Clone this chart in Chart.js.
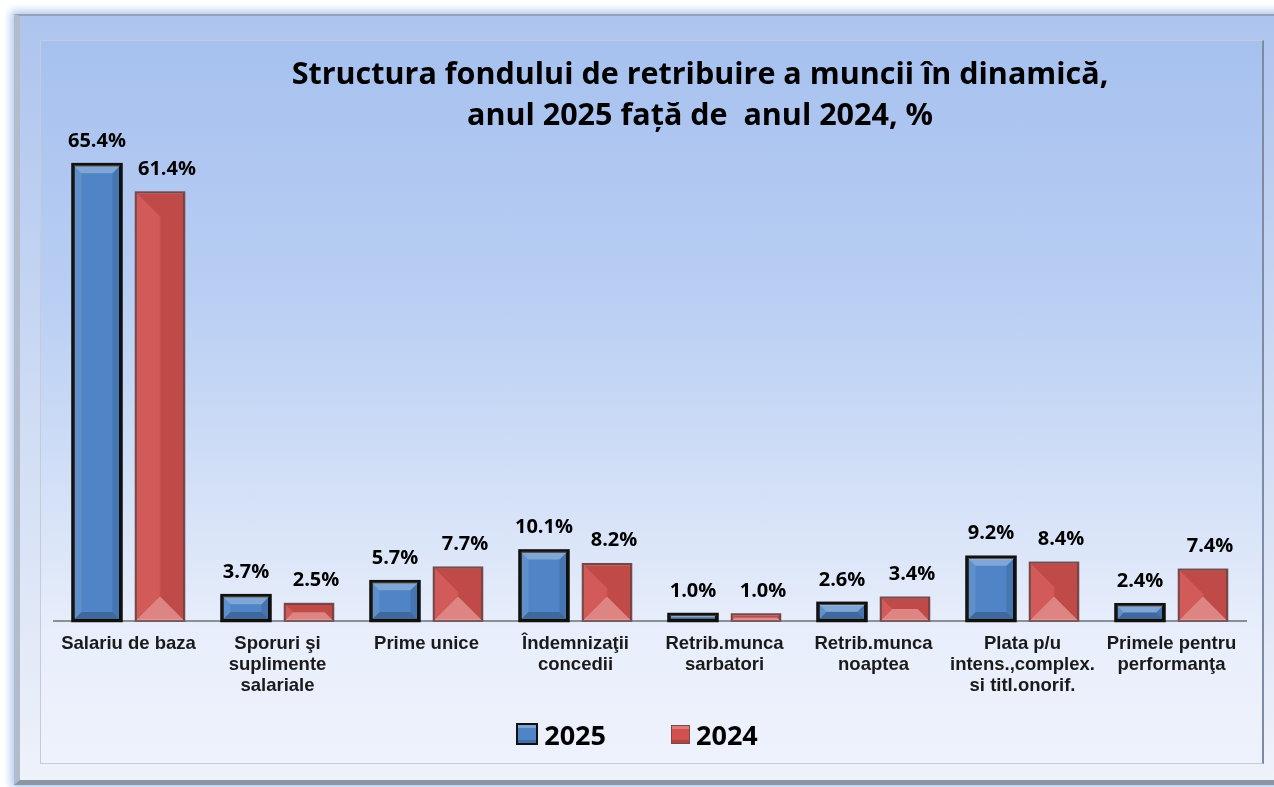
<!DOCTYPE html>
<html>
<head>
<meta charset="utf-8">
<title>Structura fondului de retribuire a muncii</title>
<script src="https://cdn.jsdelivr.net/npm/chart.js@4"></script>
<style>
  html, body { margin: 0; padding: 0; width: 1274px; height: 787px; overflow: hidden; background: #fff; }
  .frame {
    position: absolute; left: 14px; top: 14px; width: 1290px; height: 764px;
    background: linear-gradient(#adc4ee, #eef2fa);
    border-top: 2px solid #98a2b4; border-left: 6px solid #b3bccb; border-bottom: 5px solid #8c95a4;
    box-shadow: 0 0 8px 3px #abc9f2;
  }
  .panel {
    position: absolute; left: 40px; top: 40px; width: 1221px; height: 722px;
    background: linear-gradient(#a7c1ef 0%, #b8cef3 35%, #d3e0f7 62%, #e8eefb 82%, #eef2fc 100%);
    border: 1px solid #c4ccd9; border-right: 2px solid #7d8ca4;
  }
  #grafico { position: absolute; left: 0; top: 0; }
  #leyenda {
    position: absolute; left: 0; width: 1274px; top: 713px; height: 42px;
    display: flex; justify-content: center; align-items: center;
    font-family: 'Open Sans', sans-serif; font-weight: bold; font-size: 27px; color: #000;
  }
</style>
</head>
<body>
<div class="frame"></div>
<div class="panel"></div>
<canvas id="grafico" width="1274" height="787"></canvas>
<div id="leyenda"></div>
<script>
/* ── Datos ───────────────────────────────────────────── */

const titluri = [
  "Structura fondului de retribuire a muncii în dinamică,",
  "anul 2025 față de  anul 2024, %",
];

const categorii = [
  "Salariu de baza",
  ["Sporuri şi", "suplimente", "salariale"],
  "Prime unice",
  ["Îndemnizaţii", "concedii"],
  ["Retrib.munca", "sarbatori"],
  ["Retrib.munca", "noaptea"],
  ["Plata p/u", "intens.,complex.", "si titl.onorif."],
  ["Primele pentru", "performanţa"],
];

const ani = ["2025", "2024"];
const valori2025 = [65.4, 3.7, 5.7, 10.1, 1.0, 2.6, 9.2, 2.4];
const valori2024 = [61.4, 2.5, 7.7, 8.2, 1.0, 3.4, 8.4, 7.4];

/* ── Estilo de las barras (bisel) ─────────────────────── */

const culori = [
  { fill: "#4f84c6", border: "#111111", width: 2.5 },
  { fill: "#d0514f", border: "#7a4848", width: 1.5 },
];

const bisel = [
  { depth: 9, top: "rgba(255,255,255,0.28)", left: "rgba(255,255,255,0.10)",
    right: "rgba(0,0,0,0.10)", bottom: "rgba(0,0,0,0.20)", dx: 0 },
  { depth: 24, top: "rgba(0,0,0,0.08)", left: "rgba(255,255,255,0.06)",
    right: "rgba(0,0,0,0.08)", bottom: "rgba(255,255,255,0.30)", dx: 7 },
];

function poly(ctx, pts, color) {
  ctx.beginPath();
  ctx.moveTo(pts[0][0], pts[0][1]);
  for (let i = 1; i < pts.length; i++) ctx.lineTo(pts[i][0], pts[i][1]);
  ctx.closePath();
  ctx.fillStyle = color;
  ctx.fill();
}

const biselPlugin = {
  id: "bisel",
  afterDatasetDraw(chart, args) {
    const ctx = chart.ctx;
    const s = bisel[args.index];
    const ds = chart.data.datasets[args.index];
    args.meta.data.forEach((bar) => {
      const l = bar.x - bar.width / 2, r = bar.x + bar.width / 2;
      const t = bar.y, b = bar.base;
      const d = Math.min(s.depth, (r - l) / 2, (b - t) / 2);
      ctx.save();
      poly(ctx, [[l, t], [r, t], [r - d, t + d], [l + d, t + d]], s.top);
      poly(ctx, [[l, b], [r, b], [r - d, b - d], [l + d, b - d]], s.bottom);
      poly(ctx, [[l, t], [l + d, t + d], [l + d, b - d], [l, b]], s.left);
      poly(ctx, [[r, t], [r - d, t + d], [r - d, b - d], [r, b]], s.right);
      ctx.lineWidth = ds.borderWidth;
      ctx.strokeStyle = ds.borderColor;
      ctx.strokeRect(l, t, r - l, b - t);
      ctx.restore();
    });
  },
};

/* ── Etiquetas de valor y título ──────────────────────── */

const etichetePlugin = {
  id: "etichete",
  afterDatasetsDraw(chart) {
    const ctx = chart.ctx;
    ctx.save();
    ctx.font = "bold 20px 'Open Sans', sans-serif";
    ctx.fillStyle = "#000";
    ctx.textAlign = "center";
    ctx.textBaseline = "middle";
    chart.data.datasets.forEach((ds, i) => {
      chart.getDatasetMeta(i).data.forEach((bar, j) => {
        ctx.fillText(ds.data[j].toFixed(1) + "%", bar.x + bisel[i].dx, bar.y - 23);
      });
    });
    ctx.restore();
  },
  afterDraw(chart) {
    const ctx = chart.ctx;
    ctx.save();
    ctx.font = "bold 30.5px 'Open Sans', sans-serif";
    ctx.fillStyle = "#000";
    ctx.textAlign = "center";
    ctx.textBaseline = "middle";
    ctx.fillText(titluri[0], 700, 75);
    ctx.fillText(titluri[1], 700, 116);
    ctx.restore();
  },
};

/* ── Gráfico ──────────────────────────────────────────── */

new Chart(document.getElementById("grafico"), {
  type: "bar",
  data: {
    labels: categorii,
    datasets: ani.map((an, i) => ({
      label: an,
      data: i === 0 ? valori2025 : valori2024,
      backgroundColor: culori[i].fill,
      borderColor: culori[i].border,
      borderWidth: culori[i].width,
      borderSkipped: false,
    })),
  },
  options: {
    responsive: false,
    devicePixelRatio: 1,
    animation: false,
    categoryPercentage: 0.846,
    barPercentage: 0.778,
    layout: { padding: { left: 54, right: 28, top: 132, bottom: 79 } },
    scales: {
      y: { display: false, min: 0, max: 70 },
      x: {
        grid: { display: false, drawTicks: false },
        border: { display: true, color: "#8a8f98", width: 2 },
        ticks: {
          autoSkip: false,
          maxRotation: 0,
          padding: 12,
          color: "#1a1a1a",
          font: { family: "'Liberation Sans', Arial, sans-serif", size: 18.5, weight: "bold", lineHeight: "21px" },
        },
      },
    },
    plugins: {
      legend: { display: false },
      tooltip: { enabled: false },
      title: { display: false },
    },
  },
  plugins: [biselPlugin, etichetePlugin],
});

/* ── Leyenda HTML ─────────────────────────────────────── */

document.getElementById("leyenda").innerHTML = ani.map((an, i) => `
  <span style="display:inline-flex;align-items:center;gap:6px;margin:0 ${i === 0 ? 65 : 0}px 0 0;">
    <span style="display:inline-block;width:${i === 0 ? 18 : 17}px;height:${i === 0 ? 18 : 17}px;
                 background:${culori[i].fill};border:${i === 0 ? 2 : 1.5}px solid ${culori[i].border};
                 box-shadow:inset 0 3px 0 rgba(255,255,255,0.25), inset 0 -3px 0 rgba(0,0,0,0.15);"></span>
    ${an}
  </span>
`).join("");
</script>
</body>
</html>
